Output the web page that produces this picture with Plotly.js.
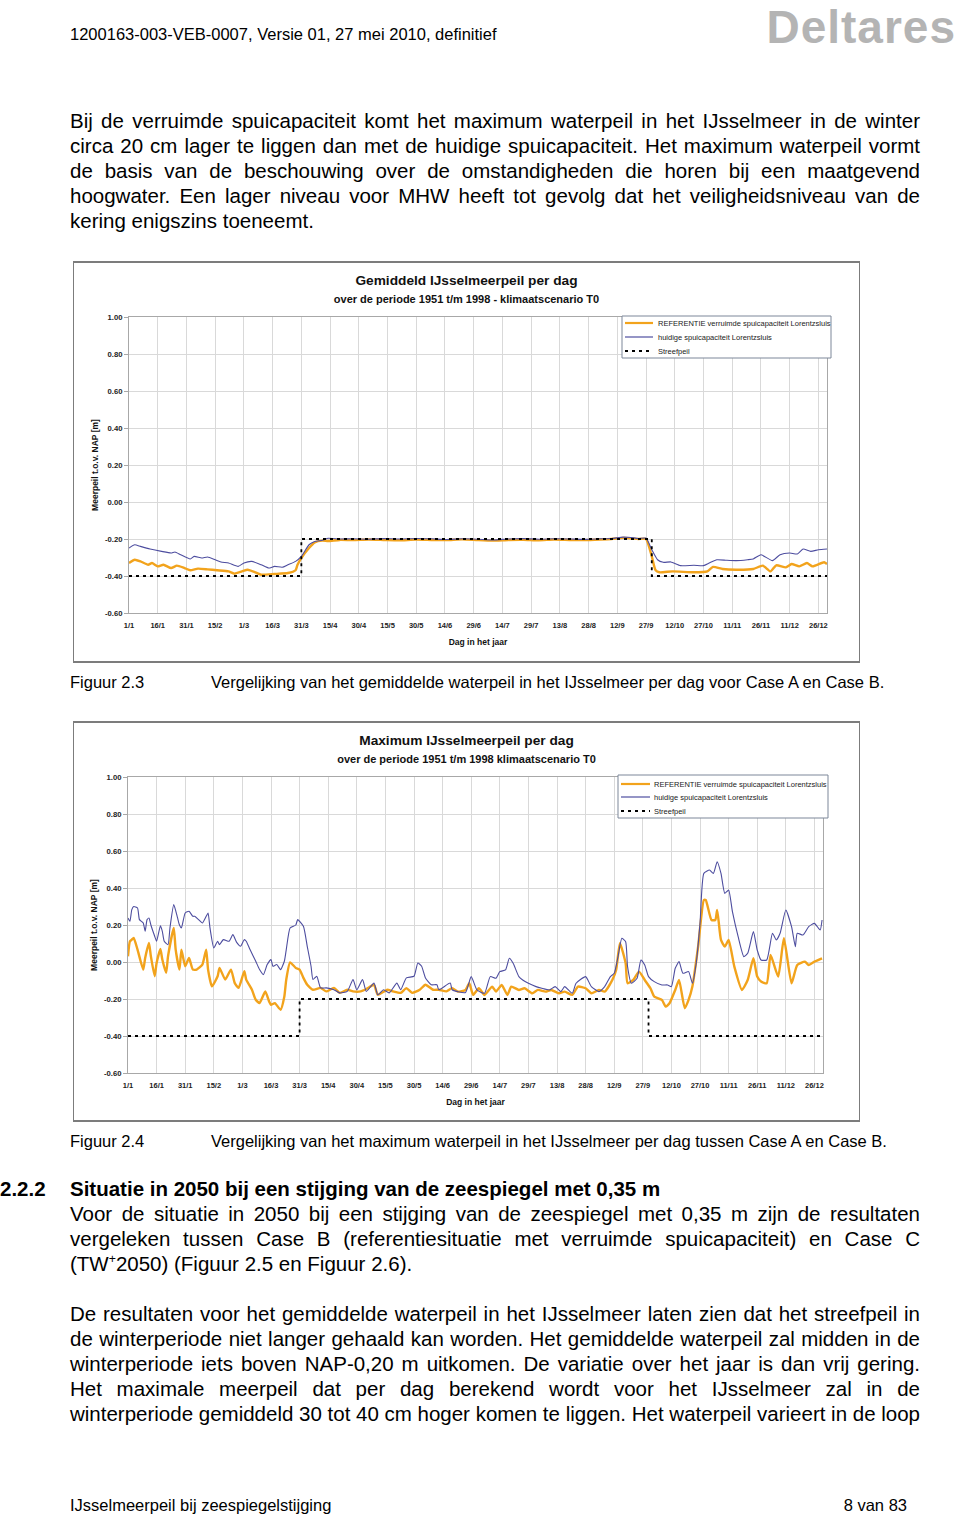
<!DOCTYPE html>
<html><head><meta charset="utf-8">
<script src="https://cdn.plot.ly/plotly-3.0.1.min.js"></script>
<style>
html,body{margin:0;padding:0;background:#fff;}
#page{position:relative;width:960px;height:1516px;overflow:hidden;font-family:"Liberation Sans",Arial,Helvetica,sans-serif;color:#000;}
.t{position:absolute;white-space:nowrap;}
.b{font-size:20.5px;line-height:25px;}
.j{position:absolute;left:70px;width:850px;text-align:justify;text-align-last:justify;word-spacing:-3px;}
.s{font-size:16.5px;line-height:20px;}
.frame{position:absolute;left:73px;width:787px;background:#fff;}
.frame .bd{position:absolute;left:0;top:0;right:0;bottom:0;border:1px solid #7c7c7c;border-top-width:2px;border-bottom-width:2px;box-sizing:border-box;pointer-events:none;}
.frame .pl{position:absolute;left:0;top:0;}
sup{font-size:60%;line-height:0;}
</style></head>
<body><div id="page">
<div class="t s" style="left:70px;top:24px;">1200163-003-VEB-0007, Versie 01, 27 mei 2010, definitief</div>
<div class="t" style="right:4px;top:0px;font-family:'Liberation Sans',Arial,sans-serif;font-weight:700;font-size:46px;line-height:normal;letter-spacing:1px;color:#b4b4b4;">Deltares</div>

<div class="j b" style="top:108px;">Bij de verruimde spuicapaciteit komt het maximum waterpeil in het IJsselmeer in de winter</div>
<div class="j b" style="top:133px;">circa 20 cm lager te liggen dan met de huidige spuicapaciteit. Het maximum waterpeil vormt</div>
<div class="j b" style="top:158px;">de basis van de beschouwing over de omstandigheden die horen bij een maatgevend</div>
<div class="j b" style="top:183px;">hoogwater. Een lager niveau voor MHW heeft tot gevolg dat het veiligheidsniveau van de</div>
<div class="t b" style="left:70px;top:208px;">kering enigszins toeneemt.</div>

<div class="frame" style="top:261px;height:402px;"><div id="c1" class="pl"></div><div class="bd"></div></div>
<div class="t s" style="left:70px;top:672px;">Figuur 2.3</div>
<div class="t s" style="left:211px;top:672px;">Vergelijking van het gemiddelde waterpeil in het IJsselmeer per dag voor Case A en Case B.</div>

<div class="frame" style="top:721px;height:401px;"><div id="c2" class="pl"></div><div class="bd"></div></div>
<div class="t s" style="left:70px;top:1131px;">Figuur 2.4</div>
<div class="t s" style="left:211px;top:1131px;">Vergelijking van het maximum waterpeil in het IJsselmeer per dag tussen Case A en Case B.</div>

<div class="t b" style="left:0px;top:1176px;font-weight:bold;">2.2.2</div>
<div class="t b" style="left:70px;top:1176px;font-weight:bold;">Situatie in 2050 bij een stijging van de zeespiegel met 0,35 m</div>
<div class="j b" style="top:1201px;">Voor de situatie in 2050 bij een stijging van de zeespiegel met 0,35 m zijn de resultaten</div>
<div class="j b" style="top:1226px;">vergeleken tussen Case B (referentiesituatie met verruimde spuicapaciteit) en Case C</div>
<div class="t b" style="left:70px;top:1251px;">(TW<sup>+</sup>2050) (Figuur 2.5 en Figuur 2.6).</div>

<div class="j b" style="top:1301px;">De resultaten voor het gemiddelde waterpeil in het IJsselmeer laten zien dat het streefpeil in</div>
<div class="j b" style="top:1326px;">de winterperiode niet langer gehaald kan worden. Het gemiddelde waterpeil zal midden in de</div>
<div class="j b" style="top:1351px;">winterperiode iets boven NAP-0,20 m uitkomen. De variatie over het jaar is dan vrij gering.</div>
<div class="j b" style="top:1376px;">Het maximale meerpeil dat per dag berekend wordt voor het IJsselmeer zal in de</div>
<div class="j b" style="top:1401px;">winterperiode gemiddeld 30 tot 40 cm hoger komen te liggen. Het waterpeil varieert in de loop</div>

<div class="t s" style="left:70px;top:1495px;">IJsselmeerpeil bij zeespiegelstijging</div>
<div class="t s" style="right:53px;top:1495px;">8 van 83</div>
</div>
<script>
// ---------- data ----------
const xTickVals = [0,15,30,45,60,75,90,105,120,135,150,165,180,195,210,225,240,255,270,285,300,315,330,345,360];
const xTickText = ['1/1','16/1','31/1','15/2','1/3','16/3','31/3','15/4','30/4','15/5','30/5','14/6','29/6','14/7','29/7','13/8','28/8','12/9','27/9','12/10','27/10','11/11','26/11','11/12','26/12'];
const yTickVals = [-0.6,-0.4,-0.2,0,0.2,0.4,0.6,0.8,1.0];
const yTickText = ['-0.60','-0.40','-0.20','0.00','0.20','0.40','0.60','0.80','1.00'];

const seriesNames = ['REFERENTIE verruimde spuicapaciteit Lorentzsluis','huidige spuicapaciteit Lorentzsluis','Streefpeil'];

// Streefpeil (both charts)
const streefDays = [0, 90, 90, 273, 273, 364.5];
const streefVals = [-0.40, -0.40, -0.20, -0.20, -0.40, -0.40];

// Chart 1: gemiddeld meerpeil per dag
const gemRefDays = [0,3,6,10,12,15,18,22,25,29,32,36,41,46,52,55,59,62,66,69,76,83,87,88,90,94,97,101,104,110,117,125,133,141,150,158,166,174,182,190,198,206,214,222,230,238,246,252,258,262,266,270,273,275,277,284,295,302,305,310,317,326,331,335,338,343,346,350,354,357,363,364.5];
const gemRefVals = [-0.330,-0.312,-0.321,-0.339,-0.330,-0.348,-0.339,-0.357,-0.344,-0.357,-0.369,-0.360,-0.364,-0.369,-0.375,-0.387,-0.375,-0.366,-0.380,-0.393,-0.389,-0.384,-0.369,-0.339,-0.303,-0.249,-0.218,-0.209,-0.211,-0.205,-0.206,-0.203,-0.205,-0.207,-0.203,-0.205,-0.206,-0.202,-0.206,-0.209,-0.205,-0.204,-0.207,-0.203,-0.205,-0.206,-0.203,-0.200,-0.194,-0.196,-0.200,-0.200,-0.294,-0.369,-0.380,-0.375,-0.380,-0.375,-0.351,-0.362,-0.366,-0.362,-0.344,-0.375,-0.342,-0.353,-0.335,-0.348,-0.330,-0.348,-0.326,-0.335];
const gemCurDays = [0,3,6,11,17,22,24,27,32,34,38,41,45,48,52,57,60,64,69,73,76,80,83,87,90,94,97,101,104,110,117,125,133,141,150,158,166,174,182,190,198,206,214,222,230,238,246,252,258,262,266,270,273,276,279,283,288,295,300,303,307,312,317,323,326,330,336,340,345,349,352,356,360,364.5];
const gemCurVals = [-0.249,-0.231,-0.240,-0.254,-0.267,-0.276,-0.270,-0.285,-0.308,-0.294,-0.303,-0.297,-0.312,-0.324,-0.330,-0.348,-0.330,-0.321,-0.339,-0.357,-0.348,-0.353,-0.339,-0.321,-0.294,-0.231,-0.213,-0.207,-0.196,-0.200,-0.199,-0.201,-0.198,-0.200,-0.197,-0.199,-0.203,-0.199,-0.201,-0.205,-0.200,-0.198,-0.201,-0.199,-0.200,-0.202,-0.199,-0.197,-0.190,-0.192,-0.197,-0.195,-0.258,-0.312,-0.326,-0.324,-0.344,-0.342,-0.344,-0.330,-0.312,-0.315,-0.317,-0.312,-0.308,-0.285,-0.317,-0.285,-0.276,-0.281,-0.254,-0.267,-0.258,-0.254];

// Chart 2: maximum meerpeil per dag
const maxRefDays = [0,1,2,3,5,8,9,11,12,14,15,17,18,20,21,24,25,27,28,30,32,34,36,39,41,42,44,47,48,51,54,56,58,61,62,65,67,69,72,74,75,77,80,82,83,85,88,90,92,94,97,101,104,108,111,115,118,122,125,129,131,136,139,143,146,149,153,156,160,163,167,170,173,177,179,181,184,187,191,193,196,199,201,205,208,212,215,219,222,226,229,233,236,240,243,247,250,254,256,258,261,262,265,268,271,274,276,280,282,284,287,289,292,294,296,299,302,303,306,308,309,311,313,315,318,322,325,328,330,332,335,337,341,344,348,351,355,357,360,364];
const maxRefVals = [0.031,0.112,0.121,0.130,0.067,-0.041,0.022,0.103,0.031,-0.077,-0.005,0.070,0.013,-0.059,0.031,0.184,0.067,-0.041,0.067,-0.023,0.022,-0.041,-0.041,-0.014,0.067,-0.041,-0.132,-0.077,-0.032,-0.095,-0.041,-0.114,-0.140,-0.050,-0.095,-0.150,-0.204,-0.222,-0.159,-0.213,-0.231,-0.222,-0.258,-0.186,-0.095,-0.002,-0.032,-0.041,-0.086,-0.123,-0.150,-0.140,-0.159,-0.140,-0.167,-0.150,-0.159,-0.159,-0.146,-0.123,-0.177,-0.150,-0.159,-0.167,-0.141,-0.167,-0.150,-0.123,-0.150,-0.150,-0.159,-0.141,-0.160,-0.151,-0.115,-0.178,-0.142,-0.178,-0.133,-0.160,-0.124,-0.178,-0.133,-0.151,-0.142,-0.169,-0.151,-0.160,-0.151,-0.169,-0.160,-0.178,-0.133,-0.142,-0.169,-0.151,-0.160,-0.097,-0.043,0.101,-0.007,-0.115,-0.097,-0.052,-0.097,-0.142,-0.187,-0.205,-0.241,-0.223,-0.151,-0.097,-0.250,-0.205,-0.133,0.083,0.335,0.335,0.227,0.227,0.281,0.119,0.083,0.119,-0.025,-0.151,-0.097,0.020,-0.079,-0.106,-0.115,0.038,-0.079,0.128,-0.115,-0.016,0.002,-0.016,0.002,0.020];
const maxCurDays = [0,1,2,3,5,6,8,9,10,11,12,14,15,17,18,19,21,22,24,26,27,28,30,32,34,35,37,39,41,42,43,45,47,48,50,53,55,57,59,61,62,64,67,69,71,73,75,76,78,80,82,83,85,88,89,92,94,96,97,99,101,104,108,111,115,118,120,123,125,129,131,134,137,141,143,146,150,152,154,156,159,162,163,169,170,173,177,180,183,187,190,193,195,198,200,202,205,207,210,214,217,221,224,227,229,233,235,240,243,247,250,253,255,257,259,261,262,264,267,269,271,273,276,280,283,285,287,289,291,294,296,298,300,302,305,307,309,311,313,315,317,320,323,325,328,330,332,335,338,340,342,345,348,350,351,354,357,360,363,364];
const maxCurVals = [0.238,0.220,0.283,0.300,0.292,0.229,0.211,0.166,0.229,0.238,0.200,0.139,0.112,0.196,0.166,0.112,0.094,0.184,0.310,0.238,0.200,0.184,0.265,0.274,0.247,0.247,0.229,0.211,0.247,0.265,0.184,0.076,0.112,0.094,0.121,0.112,0.148,0.106,0.085,0.121,0.112,0.067,0.004,-0.041,-0.068,-0.014,0.013,-0.023,-0.014,-0.041,0.004,0.067,0.184,0.200,0.229,0.193,0.085,-0.023,-0.095,-0.077,-0.140,-0.140,-0.150,-0.167,-0.159,-0.095,-0.150,-0.095,-0.159,-0.114,-0.177,-0.150,-0.167,-0.114,-0.150,-0.086,-0.077,-0.005,-0.023,-0.086,-0.123,-0.123,-0.150,-0.114,-0.150,-0.160,-0.165,-0.079,-0.151,-0.169,-0.079,-0.088,-0.052,-0.043,0.020,-0.007,-0.079,-0.097,-0.115,-0.133,-0.142,-0.151,-0.133,-0.160,-0.133,-0.169,-0.115,-0.079,-0.133,-0.160,-0.133,-0.079,-0.061,0.029,0.128,0.110,-0.025,-0.115,-0.088,0.011,-0.016,-0.079,-0.106,-0.124,-0.124,-0.133,-0.034,0.002,-0.061,-0.052,-0.115,-0.007,0.209,0.479,0.497,0.479,0.542,0.479,0.371,0.389,0.272,0.137,0.029,0.047,0.164,0.065,0.011,0.011,0.155,0.119,0.155,0.281,0.191,0.083,0.155,0.146,0.191,0.209,0.173,0.227];

// ---------- styling ----------
const FONT = 'Liberation Sans, Arial, Helvetica, sans-serif';
const COL_REF = '#F2A31C', COL_CUR = '#4D4D9F', COL_STR = '#000000';

function makeChart(id, W, H, box, titleMain, titleSub, refD, refV, curD, curV, leg) {
  const traces = [
    {x: refD, y: refV, name: seriesNames[0], mode: 'lines', line: {color: COL_REF, width: 2.4, shape: 'spline', smoothing: 0.5}},
    {x: curD, y: curV, name: seriesNames[1], mode: 'lines', line: {color: COL_CUR, width: 1.1, shape: 'spline', smoothing: 0.5}},
    {x: streefDays, y: streefVals, name: seriesNames[2], mode: 'lines', line: {color: COL_STR, width: 1.8, dash: '3px,4px'}}
  ];
  const pw = W - box.l - box.r, ph = H - box.t - box.b;
  const px = x => (x - box.l) / pw, py = y => 1 - (y - box.t) / ph;
  const shapes = [{type: 'rect', xref: 'paper', yref: 'paper', x0: px(leg.x0), x1: px(leg.x1), y0: py(leg.y0), y1: py(leg.y1), line: {color: '#7d8799', width: 1}, fillcolor: '#ffffff', layer: 'above'}];
  const annotations = [];
  const lineStyles = [{color: COL_REF, width: 2.2}, {color: COL_CUR, width: 1.2}, {color: COL_STR, width: 1.8, dash: '3px,4px'}];
  leg.ys.forEach((yy, i) => {
    shapes.push({type: 'line', xref: 'paper', yref: 'paper', x0: px(leg.lx0), x1: px(leg.lx1), y0: py(yy), y1: py(yy), line: lineStyles[i], layer: 'above'});
    annotations.push({xref: 'paper', yref: 'paper', x: px(leg.tx), y: py(yy), xanchor: 'left', yanchor: 'middle', showarrow: false, text: seriesNames[i], font: {family: FONT, size: 7.5, color: '#222'}});
  });
  const layout = {
    width: W, height: H,
    margin: {l: box.l, r: box.r, t: box.t, b: box.b, pad: 0},
    paper_bgcolor: 'rgba(0,0,0,0)', plot_bgcolor: '#ffffff',
    showlegend: false,
    font: {family: FONT, color: '#1a1a1a'},
    title: {text: '<b>' + titleMain + '</b><br><b><span style="font-size:11px">' + titleSub + '</span></b>',
            x: 0.5, xref: 'container', xanchor: 'center', y: 1 - 24 / H, yref: 'container', yanchor: 'top',
            font: {family: FONT, size: 13.7, color: '#111'}},
    xaxis: {range: [0, 364.5], tickvals: xTickVals, ticktext: xTickText, showgrid: true, gridcolor: '#d9d9d9', gridwidth: 1,
            showline: true, linecolor: '#a8a8a8', linewidth: 1, mirror: true, ticks: '', zeroline: false,
            tickfont: {family: FONT, size: 7.5, weight: 'bold', color: '#222'}, ticklabelstandoff: 5, tickangle: 0,
            title: {text: '<b>Dag in het jaar</b>', font: {family: FONT, size: 8.5, color: '#111'}, standoff: 10}},
    yaxis: {range: [-0.6, 1.0], tickvals: yTickVals, ticktext: yTickText, showgrid: true, gridcolor: '#d9d9d9', gridwidth: 1,
            showline: true, linecolor: '#a8a8a8', linewidth: 1, mirror: true, ticks: 'outside', ticklen: 4, tickcolor: '#a8a8a8', zeroline: false,
            tickfont: {family: FONT, size: 7.7, weight: 'bold', color: '#222'},
            title: {text: '<b>Meerpeil t.o.v. NAP [m]</b>', font: {family: FONT, size: 8.5, color: '#111'}, standoff: 4}},
    shapes: shapes, annotations: annotations
  };
  Plotly.newPlot(id, traces, layout, {displayModeBar: false, staticPlot: true});
}

makeChart('c1', 787, 402, {l: 56, r: 33, t: 56, b: 50},
  'Gemiddeld IJsselmeerpeil per dag', 'over de periode 1951 t/m 1998 - klimaatscenario T0',
  gemRefDays, gemRefVals, gemCurDays, gemCurVals,
  {x0: 549, x1: 758, y0: 55, y1: 97, lx0: 552, lx1: 580, tx: 583, ys: [62, 76, 90]});

makeChart('c2', 787, 401, {l: 55, r: 37, t: 56, b: 49},
  'Maximum IJsselmeerpeil per dag', 'over de periode 1951 t/m 1998 klimaatscenario T0',
  maxRefDays, maxRefVals, maxCurDays, maxCurVals,
  {x0: 545, x1: 755, y0: 54, y1: 97, lx0: 548, lx1: 577, tx: 579, ys: [63, 76, 90]});
</script>
</body></html>
